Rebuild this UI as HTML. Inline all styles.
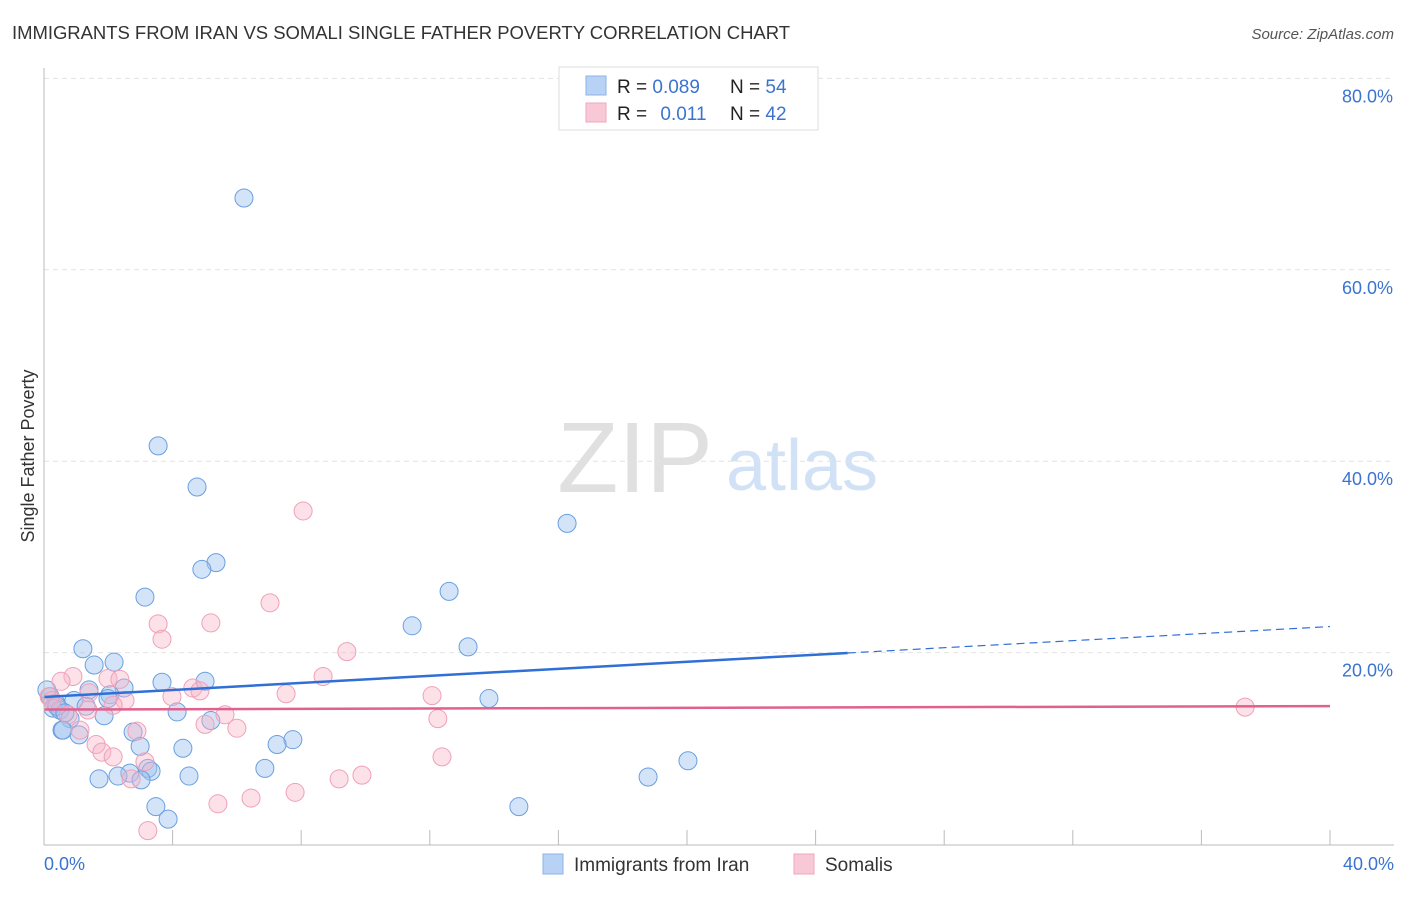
<!DOCTYPE html>
<html><head><meta charset="utf-8"><style>
body{margin:0;background:#fff;font-family:"Liberation Sans",sans-serif;}
svg text{font-family:"Liberation Sans",sans-serif;}
</style></head><body>
<svg id="chart" width="1406" height="892" xmlns="http://www.w3.org/2000/svg">
<text x="12" y="39" font-size="18.5" fill="#333" textLength="778">IMMIGRANTS FROM IRAN VS SOMALI SINGLE FATHER POVERTY CORRELATION CHART</text>
<text x="1394" y="39" font-size="15" fill="#555" font-style="italic" text-anchor="end">Source: ZipAtlas.com</text>
<text x="635" y="492" font-size="100" fill="#e0e0e0" font-family="Liberation Serif" text-anchor="middle">ZIP</text>
<text x="802" y="490" font-size="72" fill="#d2e2f6" text-anchor="middle">atlas</text>
<text transform="translate(34,456) rotate(-90)" font-size="18" fill="#333" text-anchor="middle">Single Father Poverty</text>
<g id="grid"></g><g id="ticks"></g><g id="pts"></g><g id="lines"></g>
<line x1="44" y1="68" x2="44" y2="845" stroke="#bbb"/>
<line x1="44" y1="845" x2="1394" y2="845" stroke="#bbb"/>
<text x="44" y="870" font-size="18" fill="#3b73d0">0.0%</text>
<text x="1394" y="870" font-size="18" fill="#3b73d0" text-anchor="end">40.0%</text>
<g>
<rect x="559" y="67" width="259" height="63" fill="#fff" stroke="#ddd"/>
<rect x="586" y="76" width="20" height="19" fill="#b8d2f6" stroke="#8fb3e6"/>
<rect x="586" y="103" width="20" height="19" fill="#f8c8d6" stroke="#eeaabf"/>
<text x="617" y="93" font-size="19" fill="#222">R = <tspan fill="#3b73d0">0.089</tspan></text>
<text x="730" y="93" font-size="19" fill="#222">N = <tspan fill="#3b73d0">54</tspan></text>
<text x="617" y="120" font-size="19" fill="#222">R = <tspan fill="#3b73d0" dx="8">0.011</tspan></text>
<text x="730" y="120" font-size="19" fill="#222">N = <tspan fill="#3b73d0">42</tspan></text>
</g>
<g><rect x="543" y="854" width="20" height="20" fill="#b8d2f6" stroke="#8fb3e6"/><text x="574" y="871" font-size="19" fill="#333">Immigrants from Iran</text></g>
<g><rect x="794" y="854" width="20" height="20" fill="#f8c8d6" stroke="#eeaabf"/><text x="825" y="871" font-size="19" fill="#333">Somalis</text></g>
</svg>
<script>
const yTicks=[20,40,60,80];
const xTickVals=[4,8,12,16,20,24,28,32,36,40];
const iranX=[6.22,3.55,4.76,16.27,5.35,4.91,12.6,3.14,11.45,13.19,1.21,2.18,1.56,3.67,5.01,2.49,1.40,2.05,0.93,1.99,13.84,0.19,0.37,0.28,0.50,1.31,4.14,1.87,5.19,0.81,0.56,1.09,2.77,2.99,7.74,7.25,4.32,6.87,3.23,3.33,2.67,2.30,1.71,4.51,3.02,18.79,20.03,3.48,3.86,14.77,0.09,0.40,0.59,0.65];
const iranY=[67.5,41.6,37.3,33.5,29.4,28.7,26.4,25.8,22.8,20.6,20.4,19.0,18.7,16.9,17.0,16.3,16.1,15.6,15.0,15.2,15.2,15.4,14.7,14.2,14.0,14.4,13.8,13.4,12.9,13.1,11.9,11.4,11.7,10.2,10.9,10.4,10.0,7.9,7.9,7.6,7.4,7.1,6.8,7.1,6.7,7.0,8.7,3.9,2.6,3.9,16.1,14.4,11.9,13.7];
const somX=[8.06,7.03,3.55,3.67,5.19,9.42,8.68,0.90,1.99,0.53,2.36,2.52,1.40,7.53,4.63,3.98,4.85,0.16,12.07,5.01,6.0,12.25,5.63,2.89,1.62,1.80,2.15,3.14,2.71,12.38,9.89,9.18,7.81,6.44,5.41,3.23,37.36,0.75,0.25,1.37,2.15,1.12];
const somY=[34.8,25.2,23.0,21.4,23.1,20.1,17.5,17.5,17.3,17.0,17.2,15.0,15.8,15.7,16.3,15.4,16.0,15.4,15.5,12.5,12.1,13.1,13.5,11.8,10.4,9.6,9.1,8.6,6.8,9.1,7.2,6.8,5.4,4.8,4.2,1.4,14.3,13.5,15.0,14.0,14.5,11.9];
const iranFit=[15.36,0.184];
const somFit=[14.05,0.009];
const NS="http://www.w3.org/2000/svg";
const sx=v=>44+v*32.15, sy=v=>844-v*9.57;
function mk(t,a,p){const e=document.createElementNS(NS,t);for(const k in a)e.setAttribute(k,a[k]);document.getElementById(p).appendChild(e);return e;}
yTicks.forEach(t=>{
 const l=mk('line',{x1:44,x2:1394,y1:sy(t),y2:sy(t),stroke:'#e2e2e2','stroke-dasharray':'5,4'},'grid');
 
 
 const tx=mk('text',{x:1393,y:sy(t)+24,'font-size':18,fill:'#3b73d0','text-anchor':'end'},'grid');
 tx.textContent=t.toFixed(1)+'%';
 
 
});
xTickVals.forEach(t=>{
 const l=mk('line',{x1:sx(t),x2:sx(t),y1:830,y2:845,stroke:'#bbb'},'ticks');
 
 
});
iranX.forEach((x,i)=>{
 const c=mk('circle',{cx:sx(x),cy:sy(iranY[i]),r:9,fill:'rgba(160,196,240,0.45)',stroke:'#6a9fe0','stroke-width':1},'pts');
 
 
});
somX.forEach((x,i)=>{
 const c=mk('circle',{cx:sx(x),cy:sy(somY[i]),r:9,fill:'rgba(248,180,200,0.4)',stroke:'#f0a0b8','stroke-width':1},'pts');
 
 
});
let l=mk('line',{x1:sx(0),y1:sy(iranFit[0]),x2:sx(25),y2:sy(iranFit[0]+25*iranFit[1]),stroke:'#2f6fd6','stroke-width':2.5},'lines');


l=mk('line',{x1:sx(25),y1:sy(iranFit[0]+25*iranFit[1]),x2:sx(40),y2:sy(iranFit[0]+40*iranFit[1]),stroke:'#2f6fd6','stroke-width':1.2,'stroke-dasharray':'8,5'},'lines');


l=mk('line',{x1:sx(0),y1:sy(somFit[0]),x2:sx(40),y2:sy(somFit[0]+40*somFit[1]),stroke:'#e0608e','stroke-width':2.5},'lines');


</script>
</body></html>
